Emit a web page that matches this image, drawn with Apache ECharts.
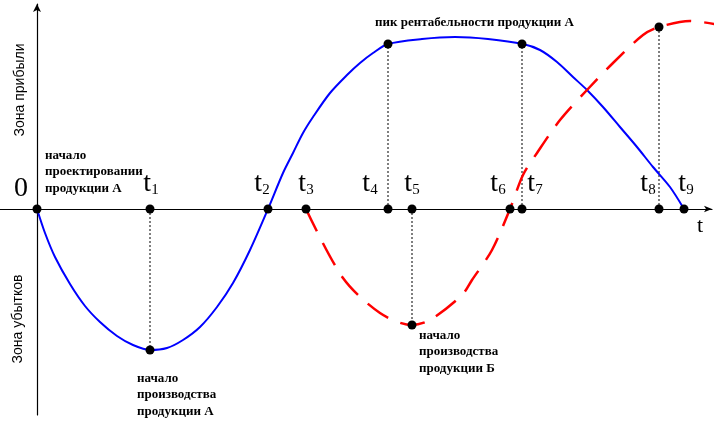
<!DOCTYPE html>
<html lang="ru">
  <head>
    <meta charset="UTF-8" />
    <title>Зоны прибыли и убытков</title>
    <script src="https://cdn.jsdelivr.net/npm/echarts@6/dist/echarts.min.js"></script>
    <style>
      html, body { margin: 0; padding: 0; background: #fff; }
      #chart { width: 720px; height: 444px; }
    </style>
  </head>
  <body>
    <div id="chart"></div>
  </body>
</html>
<script>
  // кривая продукции А (x - время, y - прибыль)
  const blueX = [0, 8, 18, 33, 48, 63, 80, 96, 113, 130, 146, 163, 180, 196, 213, 231,
    246, 256, 266, 276, 293, 310, 323, 336, 351, 385, 418, 451,
    486, 503, 520, 536, 550, 566, 583, 600, 616, 633, 647];
  const blueY = [0, -24, -48, -75, -97, -113, -127, -136, -141, -139, -131, -118, -98, -74, -41, 0,
    36, 56, 76, 92, 116, 134, 146, 156, 165, 170, 172, 170,
    165, 159, 147, 132, 119, 102, 82, 62, 42, 22, 0];
  // кривая продукции Б
  const redX = [269, 306, 343, 375, 393, 425, 435, 455, 473, 486, 500, 523, 550, 576, 606, 622, 653, 683];
  const redY = [0, -69, -104, -116, -111, -86, -71, -41, 0, 34, 56, 89, 119, 146, 174, 182, 188, 184];
  // моменты времени 0, t1 ... t9
  const tickSub = ["", "1", "2", "3", "4", "5", "6", "7", "8", "9"];
  const tickX = [0, 113, 231, 269, 351, 375, 473, 485, 622, 647];
  // точки на кривых: номер момента и значение
  const keyIdx = [1, 4, 7, 5, 8];
  const keyY = [-141, 165, 165, -116, 182];
  // сдвиги подписей t (чтобы не наезжали на линии)
  const labelShift = [[-16, 5], [1, 0], [-6, 0], [0, 0], [-18, 0], [0, 0], [-12, 0], [13, 0], [-11, 0], [2, 0]];

  const chart = echarts.init(document.getElementById("chart"));

  const dotted = keyIdx.map((idx, k) => ({
    type: "line",
    data: [[tickX[idx], 0], [tickX[idx], keyY[k]]],
    showSymbol: false,
    lineStyle: { color: "#000", width: 1, type: [2, 2] },
    z: 1,
  }));

  const bold = { fontFamily: "Liberation Serif", fontWeight: "bold", fontSize: 13, lineHeight: 16.5, fill: "#000" };

  let option = {
    animation: false,
    grid: { left: 0, right: 8, top: 4, bottom: 29 },
    xAxis: {
      type: "value",
      min: -37,
      max: 675,
      axisLine: { onZero: true, symbol: ["none", "arrow"], symbolSize: [5, 8], lineStyle: { color: "#000", width: 1.2 } },
      axisTick: { show: false },
      axisLabel: { show: false },
      splitLine: { show: false },
    },
    yAxis: {
      type: "value",
      min: -206,
      max: 205,
      axisLine: { onZero: true, symbol: ["none", "arrow"], symbolSize: [6, 8], lineStyle: { color: "#000", width: 1.2 } },
      axisTick: { show: false },
      axisLabel: { show: false },
      splitLine: { show: false },
    },
    series: [
      {
        type: "line",
        data: blueX.map((x, i) => [x, blueY[i]]),
        smooth: 0.3,
        showSymbol: false,
        lineStyle: { color: "#0000ff", width: 2 },
        z: 2,
      },
      {
        type: "line",
        data: redX.map((x, i) => [x, redY[i]]),
        smooth: 0.3,
        clip: false,
        showSymbol: false,
        lineStyle: { color: "#ff0000", width: 2.5, type: [25, 13] },
        z: 2,
      },
      ...dotted,
      {
        type: "scatter",
        symbolSize: 9,
        itemStyle: { color: "#000", opacity: 1 },
        z: 5,
        data: tickX.map((x, i) => ({ value: [x, 0], label: { offset: labelShift[i] } })),
        label: {
          show: true,
          position: "top",
          distance: 7,
          formatter: (p) => (p.dataIndex === 0 ? "{t|0}" : "{t|t}{s|" + tickSub[p.dataIndex] + "}"),
          rich: {
            t: { fontFamily: "Liberation Serif", fontSize: 28, lineHeight: 28, color: "#000" },
            s: { fontFamily: "Liberation Serif", fontSize: 15, lineHeight: 6, verticalAlign: "bottom", color: "#000" },
          },
        },
      },
      {
        type: "scatter",
        symbolSize: 9,
        itemStyle: { color: "#000", opacity: 1 },
        z: 5,
        data: keyIdx.map((idx, k) => [tickX[idx], keyY[k]]),
      },
    ],
    graphic: [
      { type: "text", left: 45, top: 147, style: Object.assign({ text: "начало\nпроектировании\nпродукции А" }, bold) },
      { type: "text", left: 137, top: 370, style: Object.assign({ text: "начало\nпроизводства\nпродукции А" }, bold) },
      { type: "text", left: 375, top: 14, style: Object.assign({ text: "пик рентабельности продукции А" }, bold) },
      { type: "text", left: 419, top: 327, style: Object.assign({ text: "начало\nпроизводства\nпродукции Б" }, bold) },
      {
        type: "text", x: 20, y: 90, rotation: Math.PI / 2,
        style: { text: "Зона прибыли", fontFamily: "Liberation Sans", fontSize: 14, fill: "#000", align: "center", verticalAlign: "middle" },
      },
      {
        type: "text", x: 18, y: 319, rotation: Math.PI / 2,
        style: { text: "Зона убытков", fontFamily: "Liberation Sans", fontSize: 14, fill: "#000", align: "center", verticalAlign: "middle" },
      },
      {
        type: "text", x: 700, y: 226,
        style: { text: "t", fontFamily: "Liberation Serif", fontSize: 22, fill: "#000", align: "center", verticalAlign: "middle" },
      },
    ],
  };
  chart.setOption(option);
</script>
